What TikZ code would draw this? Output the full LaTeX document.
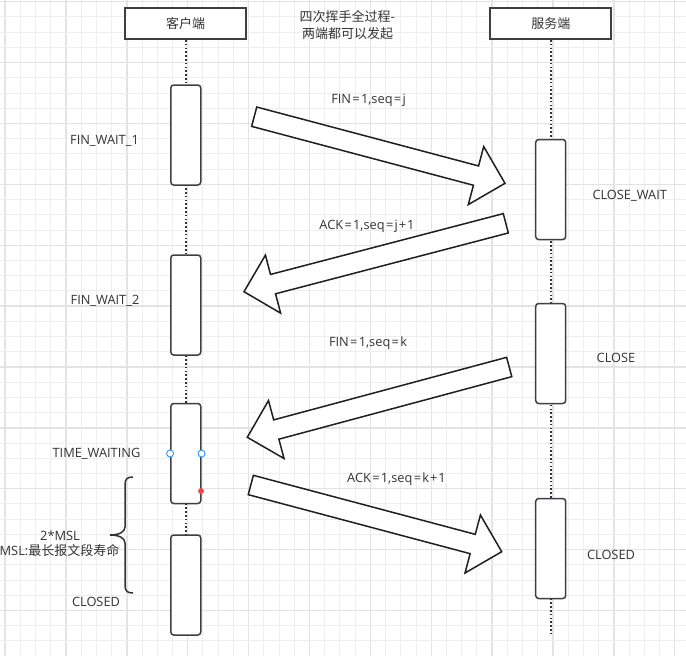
\documentclass[tikz,border=0pt]{standalone}
\usepackage{fontspec}
\setmainfont{Open Sans}
\newfontfamily\cjk{Noto Sans CJK SC}
\usetikzlibrary{calc}

\definecolor{ink}{HTML}{333333}
\definecolor{boxline}{HTML}{3C3F44}
\definecolor{gridminor}{HTML}{EEEEEE}
\definecolor{gridmajor}{HTML}{E3E3E3}
\definecolor{handleblue}{HTML}{3D9BF5}
\definecolor{handlered}{HTML}{F24A4A}

% operators in segment labels get a little air on both sides
\newcommand\opeq{\hspace{1.3pt}=\hspace{1.3pt}}
\newcommand\opplus{\hspace{1pt}+\hspace{1pt}}

\tikzset{
  headbox/.style={draw=boxline, line width=1.8pt, fill=white, minimum width=121pt,
                  minimum height=31pt, inner sep=0pt, text=ink, font=\cjk\fontsize{13}{16}\selectfont},
  actbox/.style={draw=boxline, line width=1.5pt, fill=white, rounded corners=3pt,
                 minimum width=30pt, minimum height=100pt, inner sep=0pt},
  lifeline/.style={draw=ink, line width=2pt, dash pattern=on 1.6pt off 2.2pt},
  lbl/.style={text=ink, inner sep=0pt, font=\fontsize{12.8}{15}\selectfont},
  bigarrow/.style={draw=black!88, fill=white, line width=1.5pt, line join=miter},
  handle/.style={circle, draw=handleblue, fill=white, line width=1pt, minimum size=7pt, inner sep=0pt},
  reddot/.style={circle, fill=handlered, minimum size=6pt, inner sep=0pt},
}

% block arrow from tail coordinate #1 to tip coordinate #2
\newcommand\blockarrow[2]{%
  \coordinate (#1-neck) at ($(#2)!30pt!(#1)$);
  \draw[bigarrow] ($(#1)!10pt!90:(#2)$) -- ($(#1-neck)!10pt!90:(#2)$)
    -- ($(#1-neck)!30pt!90:(#2)$) -- (#2) -- ($(#1-neck)!30pt!-90:(#2)$)
    -- ($(#1-neck)!10pt!-90:(#2)$) -- ($(#1)!10pt!-90:(#2)$) -- cycle;
}

\begin{document}
\begin{tikzpicture}[x=1pt, y=-1pt]
\useasboundingbox (0,0) rectangle (686,656);

% background grid
\begin{scope}
  \clip (0,0) rectangle (686,656);
  \fill[white] (0,0) rectangle (686,656);
  \foreach \i in {0,...,45} {
    \pgfmathsetmacro{\gx}{5.1+15.22*\i}
    \pgfmathtruncatemacro{\maj}{mod(\i,4)==0}
    \ifnum\maj=1
      \draw[gridmajor, line width=1.4pt] (\gx,0) -- (\gx,656);
    \else
      \draw[gridminor, line width=1pt] (\gx,0) -- (\gx,656);
    \fi
  }
  \foreach \j in {0,...,43} {
    \pgfmathsetmacro{\gy}{1.7+15.22*\j}
    \pgfmathtruncatemacro{\maj}{mod(\j,4)==0}
    \ifnum\maj=1
      \draw[gridmajor, line width=1.4pt] (0,\gy) -- (686,\gy);
    \else
      \draw[gridminor, line width=1pt] (0,\gy) -- (686,\gy);
    \fi
  }
\end{scope}

% participants
\node[headbox] (chead) at (185.6,23.5) {客户端};
\node[headbox] (shead) at (550.8,23.5) {服务端};
\node[align=center, text=ink, inner sep=0pt, font=\cjk\fontsize{13}{16.6}\selectfont]
  (title) at (347.5,25) {四次挥手全过程-\\两端都可以发起};

% lifelines
\coordinate (cend) at (185.6,635);
\coordinate (send) at (550.8,635);
\draw[lifeline] (chead.south) -- (cend);
\draw[lifeline] (shead.south) -- (send);

% activations, client side
\node[actbox] (cact1) at (185.8,135) {};
\node[actbox] (cact2) at (185.8,305) {};
\node[actbox] (cact3) at (185.8,453.5) {};
\node[actbox] (cact4) at (185.8,585) {};

% activations, server side
\node[actbox] (sact1) at (550.7,189.5) {};
\node[actbox] (sact2) at (550.7,353.5) {};
\node[actbox] (sact3) at (550.7,548.5) {};

% connection handles on the TIME_WAITING box
\node[handle] (hl) at (cact3.west) {};
\node[handle] (hr) at (cact3.east) {};
\node[reddot] (hd) at (201,491) {};

% state labels
\node[lbl] (fw1) at (104.5,141) {FIN\_WAIT\_1};
\node[lbl] (fw2) at (105,301) {FIN\_WAIT\_2};
\node[lbl] (tw) at (96.5,453.5) {TIME\_WAITING};
\node[lbl] (cclosed) at (96,601.7) {CLOSED};
\node[lbl] (cw) at (629.7,195.5) {CLOSE\_WAIT};
\node[lbl] (cl) at (616,358) {CLOSE};
\node[lbl] (sclosed) at (611,555) {CLOSED};

% 2MSL wait
\node[lbl] (msl) at (60,535.7) {2*MSL};
\node[lbl, anchor=east] (msldef) at (119.5,551) {MSL:{\cjk\fontsize{13}{16}\selectfont 最长报文段寿命}};
\draw[ink, line width=1.5pt] (133,477) .. controls (127,477) and (125,479) .. (125,485)
  -- (125,527) .. controls (125,532) and (119,535) .. (110,535)
  .. controls (119,535) and (125,538) .. (125,543)
  -- (125,585) .. controls (125,591) and (127,593) .. (133,593);

% segments
\coordinate (m1a) at (254.2,116.7);  \coordinate (m1b) at (505,183.3);
\coordinate (m2a) at (505.8,223.3);  \coordinate (m2b) at (244,291.7);
\coordinate (m3a) at (509.2,367);    \coordinate (m3b) at (247.3,437.3);
\coordinate (m4a) at (250.8,485);    \coordinate (m4b) at (501.7,551.7);
\blockarrow{m1a}{m1b}
\blockarrow{m2a}{m2b}
\blockarrow{m3a}{m3b}
\blockarrow{m4a}{m4b}

\node[lbl] (l1) at (368.5,100) {FIN\opeq1,seq\opeq j};
\node[lbl] (l2) at (367,226) {ACK\opeq1,seq\opeq j\opplus1};
\node[lbl] (l3) at (368,342.7) {FIN\opeq1,seq\opeq k};
\node[lbl] (l4) at (396.5,479) {ACK\opeq1,seq\opeq k\opplus1};

\end{tikzpicture}
\end{document}
